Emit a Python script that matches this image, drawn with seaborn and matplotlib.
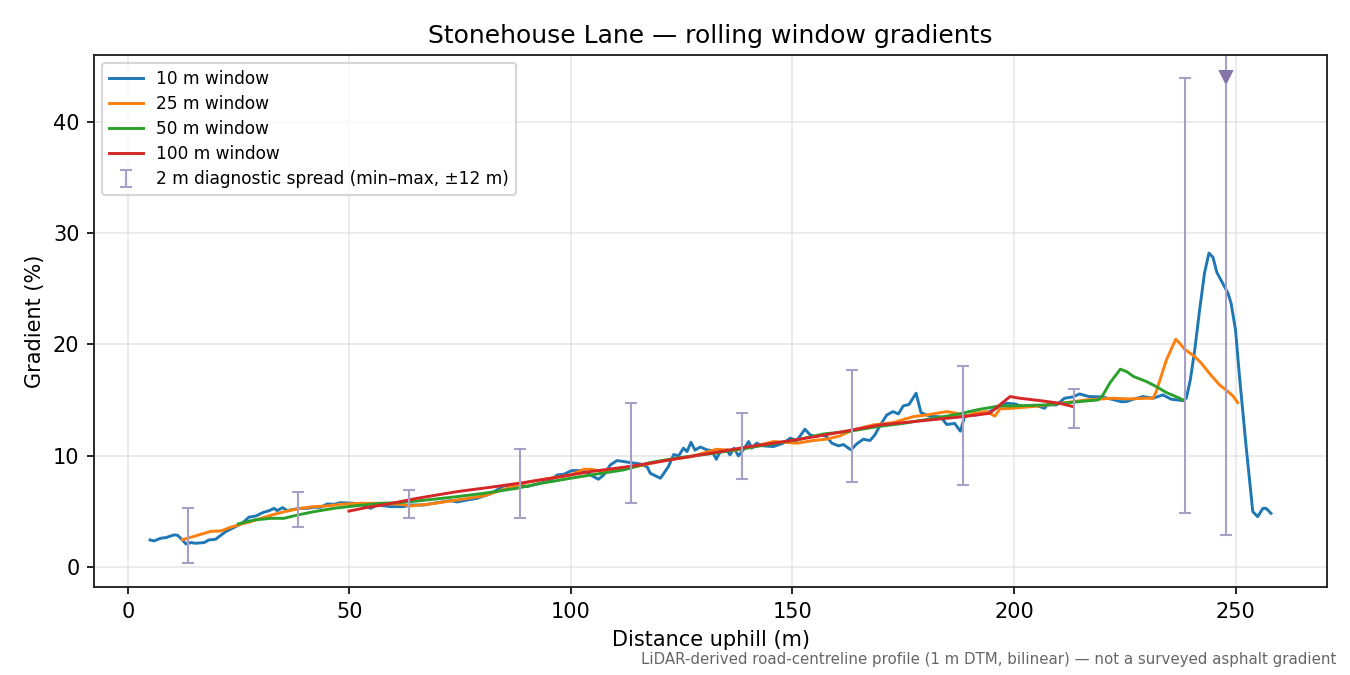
import numpy as np
import pandas as pd
import matplotlib
matplotlib.use("Agg")
import matplotlib.pyplot as plt
import seaborn as sns

# ---- data ----
x10 = [5.0, 5.9, 7.4, 8.6, 9.3, 10.4, 11.2, 12.3, 13.1, 14.2, 15.3, 17.2, 18.3, 19.8, 20.6, 22.1, 23.6,
       25.1, 26.2, 27.3, 28.9, 30.4, 31.9, 33.0, 33.7, 34.9, 36.0, 37.5, 39.0, 40.5, 42.0, 43.5, 45.0,
       46.5, 48.0, 51.0, 52.5, 54.8, 56.3, 59.3, 62.3, 63.8, 66.8, 69.8, 72.8, 74.3, 76.6, 78.8, 81.8,
       84.8, 86.3, 88.6, 90.1, 92.4, 95.4, 96.9, 98.4, 100.2, 102.9, 104.4, 106.2, 107.4, 108.9, 110.4,
       113.4, 115.6, 117.2, 117.9, 120.2, 122.0, 123.2, 124.3, 125.4, 126.2, 127.1, 128.0, 129.2, 130.7,
       131.8, 132.8, 133.7, 135.2, 135.9, 136.8, 137.8, 138.9, 140.1, 140.8, 141.9, 143.4, 145.7, 147.9,
       149.5, 151.0, 152.8, 154.0, 155.1, 156.6, 157.7, 158.9, 160.4, 161.5, 163.2, 164.5, 166.0, 167.5,
       168.6, 169.7, 171.3, 172.7, 173.9, 175.0, 176.3, 177.9, 179.0, 181.0, 183.5, 184.8, 186.6, 187.9,
       188.9, 191.5, 194.5, 196.8, 198.3, 200.2, 202.0, 205.1, 206.9, 207.5, 209.6, 211.4, 213.3, 214.8,
       216.9, 219.7, 222.3, 224.2, 225.4, 226.9, 229.1, 231.4, 233.6, 235.5, 238.1, 238.9, 239.8, 240.8,
       241.9, 243.0, 244.0, 244.9, 245.8, 247.1, 248.3, 249.0, 250.0, 250.9, 252.4, 253.9, 255.0, 256.2,
       256.9, 258.0]
g10 = [2.43, 2.34, 2.58, 2.64, 2.73, 2.88, 2.85, 2.43, 2.07, 2.19, 2.13, 2.19, 2.43, 2.49, 2.73, 3.18, 3.48,
       3.78, 4.07, 4.47, 4.58, 4.88, 5.06, 5.27, 5.06, 5.33, 5.06, 5.18, 5.27, 5.27, 5.36, 5.36, 5.66,
       5.63, 5.78, 5.72, 5.63, 5.27, 5.57, 5.42, 5.42, 5.57, 5.57, 5.78, 5.96, 5.84, 6.02, 6.17, 6.56,
       7.28, 7.37, 7.37, 7.22, 7.46, 7.76, 8.27, 8.33, 8.66, 8.66, 8.27, 7.88, 8.27, 9.17, 9.56,
       9.38, 9.26, 9.00, 8.42, 7.97, 9.02, 10.10, 9.98, 10.67, 10.37, 11.20, 10.50, 10.78, 10.52,
       10.46, 9.68, 10.37, 10.52, 10.07, 10.67, 9.98, 10.52, 11.27, 10.67, 11.12, 10.88, 10.82, 11.12,
       11.57, 11.36, 12.38, 11.87, 11.72, 11.87, 11.72, 11.12, 10.88, 11.00, 10.52, 11.06, 11.48, 11.36,
       11.87, 12.67, 13.66, 13.96, 13.75, 14.47, 14.60, 15.61, 13.87, 13.54, 13.48, 12.80, 12.90, 12.20,
       13.60, 13.66, 13.96, 14.41, 14.71, 14.65, 14.40, 14.50, 14.26, 14.56, 14.56, 15.16, 15.28, 15.55,
       15.31, 15.28, 15.05, 14.85, 14.86, 15.07, 15.31, 15.16, 15.46, 15.07, 14.95, 15.16, 16.81, 19.50,
       23.10, 26.40, 28.20, 27.84, 26.46, 25.50, 24.60, 23.70, 21.30, 17.10, 10.80, 4.97, 4.52, 5.27,
       5.27, 4.82]

x25 = [12.3, 14.5, 16.5, 18.7, 21.0, 23.2, 25.5, 27.7, 30.0, 33.0, 36.0, 39.0, 42.0, 45.0, 48.0, 52.5,
       57.0, 61.5, 63.8, 68.3, 74.3, 80.3, 86.3, 90.8, 95.4, 99.9, 102.9, 104.4, 107.4, 111.9, 116.4,
       121.7, 126.9, 132.9, 136.7, 140.0, 145.7, 151.0, 154.7, 157.7, 160.7, 163.7, 168.2, 172.7, 177.3,
       180.3, 184.8, 187.0, 188.9, 191.0, 193.8, 195.7, 196.8, 199.8, 205.8, 211.8, 216.3, 222.3, 226.0,
       229.9, 231.4, 232.1, 234.4, 236.5, 237.4, 238.5, 240.8, 242.3, 244.1, 246.4, 248.3, 249.4, 250.5]
g25 = [2.45, 2.70, 2.94, 3.20, 3.24, 3.57, 3.84, 4.07, 4.37, 4.73, 5.03, 5.27, 5.42, 5.48, 5.63, 5.72,
       5.72, 5.63, 5.48, 5.66, 6.02, 6.38, 7.16, 7.67, 7.97, 8.27, 8.78, 8.78, 8.57, 8.78, 9.17,
       9.62, 9.90, 10.58, 10.46, 10.70, 11.27, 11.12, 11.36, 11.48, 11.78, 12.31, 12.76, 12.97, 13.51,
       13.66, 13.96, 13.81, 13.51, 13.80, 13.96, 13.55, 14.20, 14.26, 14.47, 14.77, 15.01, 15.16, 15.10,
       15.16, 15.16, 15.76, 18.60, 20.46, 20.10, 19.57, 18.90, 18.30, 17.40, 16.36, 15.76, 15.37, 14.77]

x50 = [24.9, 28.5, 32.2, 35.2, 38.3, 42.0, 46.5, 51.0, 57.0, 61.5, 67.0, 74.3, 80.0, 87.8, 93.0, 99.9,
       105.0, 111.9, 117.9, 125.0, 132.0, 140.0, 146.0, 152.0, 157.0, 163.0, 169.0, 175.0, 181.0, 187.0,
       192.3, 196.8, 199.8, 207.3, 214.8, 219.0, 220.1, 221.6, 224.0, 225.4, 227.0, 229.9, 232.1, 234.4,
       237.4, 238.3]
g50 = [3.87, 4.22, 4.37, 4.37, 4.67, 4.97, 5.27, 5.48, 5.72, 5.78, 6.00, 6.32, 6.60, 7.07, 7.50, 7.97,
       8.30, 8.72, 9.38, 9.85, 10.20, 10.70, 11.10, 11.50, 11.95, 12.20, 12.60, 12.90, 13.30, 13.70,
       14.17, 14.47, 14.47, 14.56, 14.86, 15.01, 15.46, 16.51, 17.77, 17.56, 17.11, 16.66, 16.21, 15.67,
       15.16, 14.95]

x100 = [49.9, 54.0, 59.3, 65.3, 74.3, 81.8, 89.3, 96.9, 104.4, 111.9, 117.9, 125.0, 132.0, 140.0, 148.0,
        155.0, 162.0, 169.7, 177.3, 184.8, 188.5, 194.5, 196.8, 199.1, 201.3, 205.8, 210.3, 213.3]
g100 = [5.02, 5.35, 5.70, 6.17, 6.77, 7.16, 7.58, 8.06, 8.57, 8.96, 9.32, 9.80, 10.25, 10.80, 11.25,
        11.70, 12.20, 12.76, 13.06, 13.36, 13.50, 13.81, 14.56, 15.31, 15.16, 14.95, 14.71, 14.41]

# 2 m diagnostic spread (min-max, +-12 m)
diag_x = [13.5, 38.5, 63.5, 88.5, 113.5, 138.5, 163.5, 188.5, 213.5, 238.5, 247.8]
diag_lo = [0.36, 3.6, 4.4, 4.4, 5.75, 7.9, 7.6, 7.4, 12.5, 4.85, 2.9]
diag_hi = [5.3, 6.74, 6.9, 10.6, 14.7, 13.8, 17.7, 18.1, 16.0, 43.9, 52.0]

series_labels = ["10 m window", "25 m window", "50 m window", "100 m window"]
Y_TOP = 46.0

# ---- build long table ----
frames = []
for lab, xs, ys in zip(series_labels, [x10, x25, x50, x100], [g10, g25, g50, g100]):
    frames.append(pd.DataFrame({"dist": xs, "grad": ys, "series": lab}))
df = pd.concat(frames, ignore_index=True)

fig = plt.figure(figsize=(9, 4.5), dpi=150)
ax = fig.add_axes([94 / 1350, 1 - 587 / 675, 1233 / 1350, 532 / 675])

palette = {"10 m window": "#1f77b4", "25 m window": "#ff7f0e",
           "50 m window": "#2ca02c", "100 m window": "#d62728"}
sns.lineplot(data=df, x="dist", y="grad", hue="series", hue_order=series_labels,
             palette=palette, linewidth=1.4, sort=False, estimator=None, ax=ax)

dx = np.array(diag_x)
lo = np.array(diag_lo)
hi = np.array(diag_hi)
ax.errorbar(dx, lo, yerr=[np.zeros_like(lo), hi - lo], fmt="none", ecolor="#a89fc6",
            elinewidth=1.0, capsize=3, capthick=1.0,
            label="2 m diagnostic spread (min\u2013max, \u00b112 m)")
clipped = hi > Y_TOP
ax.plot(dx[clipped], np.full(clipped.sum(), 44.0), marker="v", linestyle="none",
        color="#8574a8", markersize=6)

ax.set_xlim(-7.65, 270.65)
ax.set_ylim(-1.8, Y_TOP)
ax.set_xticks([0, 50, 100, 150, 200, 250])
ax.set_yticks([0, 10, 20, 30, 40])
ax.grid(True, color="#dddddd", linewidth=0.8, alpha=0.7)
ax.set_axisbelow(True)
ax.set_xlabel("Distance uphill (m)", fontsize=10)
ax.set_ylabel("Gradient (%)", fontsize=10)
ax.set_title("Stonehouse Lane \u2014 rolling window gradients", fontsize=12)
for s in ax.spines.values():
    s.set_visible(True)
    s.set_color("#222222")
    s.set_linewidth(0.9)

handles, labels = ax.get_legend_handles_labels()
ax.legend(handles, labels, loc="upper left", fontsize=8.2, frameon=True, framealpha=0.8,
          labelspacing=0.42, borderaxespad=0.45)

fig.text(0.99, 0.012, "LiDAR-derived road-centreline profile (1 m DTM, bilinear) \u2014 not a surveyed asphalt gradient",
         ha="right", va="bottom", fontsize=7.2, color="#666666")

fig.savefig("out.png", dpi=150)
